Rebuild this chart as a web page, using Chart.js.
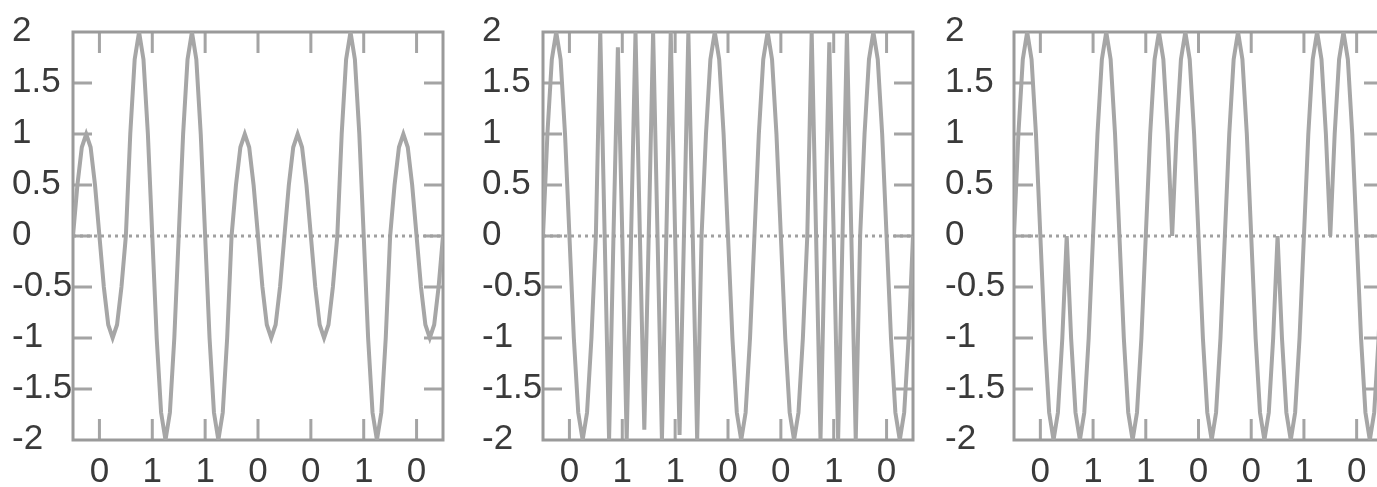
<!DOCTYPE html>
<html><head><meta charset="utf-8">
<script src="https://cdn.jsdelivr.net/npm/chart.js@4.4.0/dist/chart.umd.min.js"></script>
<style>
html,body{margin:0;padding:0;background:#fff;overflow:hidden;width:1377px;height:487px;}
.panel{position:absolute;top:0;width:470px;height:487px;}
canvas{display:block;}
</style></head><body>
<div class="panel" style="left:0"><canvas id="c1" width="470" height="487"></canvas></div>
<div class="panel" style="left:470px"><canvas id="c2" width="470" height="487"></canvas></div>
<div class="panel" style="left:940px"><canvas id="c3" width="470" height="487"></canvas></div>
<script>
// ---- data ----
const bits = [0, 1, 1, 0, 0, 1, 0];
const bitCenters = [0.5, 1.5, 2.5, 3.5, 4.5, 5.5, 6.5];
const yTickValues = [-2, -1.5, -1, -0.5, 0, 0.5, 1, 1.5, 2];
const samplesPerBit = 12;
const sampleTimes = Array.from({length: bits.length * samplesPerBit + 1}, (_, i) => i / samplesPerBit);

// amplitude-shift keyed signal (panel 1)
const askValues = [
  0,0.5,0.87,1,0.87,0.5,0,-0.5,-0.87,-1,-0.87,-0.5,
  0,1,1.73,2,1.73,1,0,-1,-1.73,-2,-1.73,-1,
  0,1,1.73,2,1.73,1,0,-1,-1.73,-2,-1.73,-1,
  0,0.5,0.87,1,0.87,0.5,0,-0.5,-0.87,-1,-0.87,-0.5,
  0,0.5,0.87,1,0.87,0.5,0,-0.5,-0.87,-1,-0.87,-0.5,
  0,1,1.73,2,1.73,1,0,-1,-1.73,-2,-1.73,-1,
  0,0.5,0.87,1,0.87,0.5,0,-0.5,-0.87,-1,-0.87,-0.5,
  0
];
// frequency-shift keyed signal (panel 2)
const fskValues = [
  0,1,1.73,2,1.73,1,0,-1,-1.73,-2,-1.73,-1,
  0,2,0,-2,0,1.85,0,-2,0,2,0,-1.9,
  0,2,0,-2,0,2,0,-1.95,0,2,0,-2,
  0,1,1.73,2,1.73,1,0,-1,-1.73,-2,-1.73,-1,
  0,1,1.73,2,1.73,1,0,-1,-1.73,-2,-1.73,-1,
  0,2,0,-2,0,1.9,0,-2,0,2,0,-2,
  0,1,1.73,2,1.73,1,0,-1,-1.73,-2,-1.73,-1,
  0
];
// phase-shift keyed signal (panel 3)
const pskValues = [
  0,1,1.73,2,1.73,1,0,-1,-1.73,-2,-1.73,-1,
  0,-1,-1.73,-2,-1.73,-1,0,1,1.73,2,1.73,1,
  0,-1,-1.73,-2,-1.73,-1,0,1,1.73,2,1.73,1,
  0,1,1.73,2,1.73,1,0,-1,-1.73,-2,-1.73,-1,
  0,1,1.73,2,1.73,1,0,-1,-1.73,-2,-1.73,-1,
  0,-1,-1.73,-2,-1.73,-1,0,1,1.73,2,1.73,1,
  0,1,1.73,2,1.73,1,0,-1,-1.73,-2,-1.73,-1,
  0
];

// ---- drawing ----
const frameTicks = {
  id: 'frameTicks',
  beforeDatasetsDraw(chart) {
    const {ctx, chartArea: a, scales: {x, y}} = chart;
    ctx.save();
    ctx.strokeStyle = '#a4a4a4';
    ctx.lineWidth = 3;
    ctx.beginPath();
    yTickValues.forEach(v => {
      if (v === 2 || v === -2) return;
      const py = y.getPixelForValue(v);
      ctx.moveTo(a.left, py); ctx.lineTo(a.left + 19, py);
      ctx.moveTo(a.right, py); ctx.lineTo(a.right - 19, py);
    });
    bitCenters.forEach(v => {
      const px = x.getPixelForValue(v);
      ctx.moveTo(px, a.bottom); ctx.lineTo(px, a.bottom - 21);
      ctx.moveTo(px, a.top); ctx.lineTo(px, a.top + 21);
    });
    ctx.stroke();
    ctx.strokeStyle = '#9a9a9a';
    ctx.lineWidth = 3;
    ctx.strokeRect(a.left, a.top, a.right - a.left, a.bottom - a.top);
    ctx.restore();
  }
};

function makeChart(id, values, labelLeft, plotLeft) {
  return new Chart(document.getElementById(id), {
    type: 'line',
    data: {
      datasets: [
        {
          data: [{x: 0, y: 0}, {x: 7, y: 0}],
          borderColor: '#a0a0a0', borderWidth: 3, borderDash: [3, 4],
          pointRadius: 0, tension: 0
        },
        {
          data: values.map((v, i) => ({x: sampleTimes[i], y: v})),
          borderColor: '#a6a6a6', borderWidth: 4,
          pointRadius: 0, tension: 0
        }
      ]
    },
    options: {
      responsive: false, animation: false, devicePixelRatio: 1,
      layout: {padding: {left: labelLeft, right: 27, top: 32, bottom: 0}},
      plugins: {legend: {display: false}, tooltip: {enabled: false}},
      scales: {
        x: {
          type: 'linear', min: 0, max: 7,
          grid: {display: false, drawTicks: false},
          border: {display: false},
          afterBuildTicks: s => { s.ticks = bitCenters.map(v => ({value: v})); },
          afterFit: s => { s.height = 47; },
          ticks: {
            autoSkip: false, maxRotation: 0, padding: 11,
            color: '#3a3a3a',
            font: {family: '"Liberation Sans", Arial, sans-serif', size: 35},
            callback: (v, i) => String(bits[i])
          }
        },
        y: {
          min: -2, max: 2,
          grid: {display: false, drawTicks: false},
          border: {display: false},
          afterBuildTicks: s => { s.ticks = yTickValues.map(v => ({value: v})); },
          afterFit: s => { s.width = plotLeft - labelLeft; },
          ticks: {
            crossAlign: 'far', padding: 0, labelOffset: -1,
            color: '#3a3a3a',
            font: {family: '"Liberation Sans", Arial, sans-serif', size: 35},
            callback: v => String(v)
          }
        }
      }
    },
    plugins: [frameTicks]
  });
}

makeChart('c1', askValues, 12, 73);
makeChart('c2', fskValues, 12, 73);
makeChart('c3', pskValues, 5, 74);
</script>
</body></html>
